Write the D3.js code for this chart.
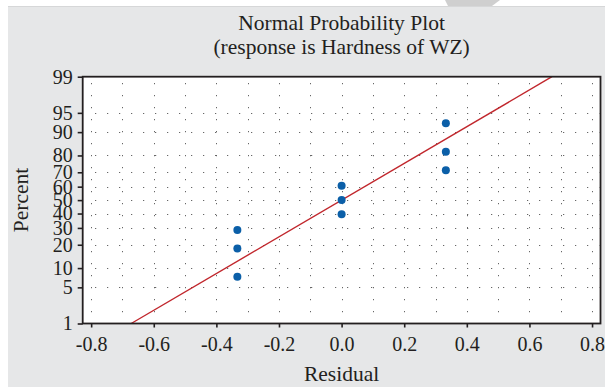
<!DOCTYPE html>
<html>
<head>
<meta charset="utf-8">
<script src="https://cdn.jsdelivr.net/npm/d3@7"></script>
<style>
  body { margin: 0; background: #fff; }
  svg { display: block; font-family: "Liberation Serif", "DejaVu Serif", serif; }
</style>
</head>
<body>
<svg id="chart"></svg>
<script>
let w = 605;
let h = 387;

// residuals and normal-score percents of the 9 observations
const residual = [-0.333, -0.333, -0.333, 0, 0, 0, 0.333, 0.333, 0.333];
const percent = [7.4, 18.1, 28.7, 39.4, 50, 60.6, 71.3, 81.9, 92.6];
// fitted line end points
const fitResidual = [-0.672, 0.672];
const fitPercent = [1, 99];

const yTicks = [1, 5, 10, 20, 30, 40, 50, 60, 70, 80, 90, 95, 99];
const yGrid = [5, 10, 20, 30, 40, 50, 60, 70, 80, 90, 95];
const xTicks = [-0.8, -0.6, -0.4, -0.2, 0.0, 0.2, 0.4, 0.6, 0.8];
const xGrid = [-0.8, -0.7, -0.6, -0.5, -0.4, -0.3, -0.2, -0.1, 0, 0.1, 0.2, 0.3, 0.4, 0.5, 0.6, 0.7, 0.8];

// inverse normal cdf (Acklam)
function probit(p) {
  const a = [-39.69683028665376, 220.9460984245205, -275.9285104469687, 138.3577518672690, -30.66479806614716, 2.506628277459239];
  const b = [-54.47609879822406, 161.5858368580409, -155.6989798598866, 66.80131188771972, -13.28068155288572];
  const c = [-0.007784894002430293, -0.3223964580411365, -2.400758277161838, -2.549732539343734, 4.374664141464968, 2.938163982698783];
  const d = [0.007784695709041462, 0.3224671290700398, 2.445134137142996, 3.754408661907416];
  const pl = 0.02425;
  let q, r;
  if (p < pl) {
    q = Math.sqrt(-2 * Math.log(p));
    return (((((c[0]*q+c[1])*q+c[2])*q+c[3])*q+c[4])*q+c[5]) / ((((d[0]*q+d[1])*q+d[2])*q+d[3])*q+1);
  } else if (p <= 1 - pl) {
    q = p - 0.5; r = q * q;
    return (((((a[0]*r+a[1])*r+a[2])*r+a[3])*r+a[4])*r+a[5])*q / (((((b[0]*r+b[1])*r+b[2])*r+b[3])*r+b[4])*r+1);
  }
  q = Math.sqrt(-2 * Math.log(1 - p));
  return -(((((c[0]*q+c[1])*q+c[2])*q+c[3])*q+c[4])*q+c[5]) / ((((d[0]*q+d[1])*q+d[2])*q+d[3])*q+1);
}

let svg = d3.select("#chart").attr("width", w).attr("height", h);

// page background
svg.append("rect").attr("x", 8).attr("y", 6.5).attr("width", w - 8).attr("height", h - 6.5)
  .attr("fill", "#e6e7e8");
svg.append("line").attr("x1", 8).attr("x2", w).attr("y1", 6.5).attr("y2", 6.5)
  .attr("stroke", "#d6d7d8").attr("stroke-width", 1);
svg.append("polygon").attr("points", "445,0 500,0 492,6 448,6").attr("fill", "#cfcfcf");

const pLeft = 82.7, pRight = 600.5, pTop = 76.7, pBottom = 323.5;

let xScale = d3.scaleLinear().domain([-0.827, 0.827]).range([pLeft, pRight]);
let zScale = d3.scaleLinear().domain([probit(0.01), probit(0.99)]).range([pBottom, pTop]);
const yScale = (p) => zScale(probit(p / 100));

// plot area
svg.append("rect").attr("x", pLeft).attr("y", pTop).attr("width", pRight - pLeft).attr("height", pBottom - pTop)
  .attr("fill", "#fff");

// dotted grid
let grid = svg.append("g").attr("stroke", "#444").attr("stroke-width", 1).attr("stroke-dasharray", "1,11");
grid.selectAll("line.v").data(xGrid).enter().append("line")
  .attr("x1", d => Math.round(xScale(d)) + 0.5).attr("x2", d => Math.round(xScale(d)) + 0.5)
  .attr("y1", pTop + 6.5).attr("y2", pBottom - 1);
grid.selectAll("line.h").data(yGrid).enter().append("line")
  .attr("y1", d => Math.round(yScale(d)) + 0.5).attr("y2", d => Math.round(yScale(d)) + 0.5)
  .attr("x1", pLeft + 12.5).attr("x2", pRight - 1);

// fitted line
svg.append("line")
  .attr("x1", xScale(fitResidual[0])).attr("y1", yScale(fitPercent[0]))
  .attr("x2", xScale(fitResidual[1])).attr("y2", yScale(fitPercent[1]))
  .attr("stroke", "#c1272d").attr("stroke-width", 1.4);

// points
svg.append("g").selectAll("circle").data(residual).enter().append("circle")
  .attr("cx", d => xScale(d))
  .attr("cy", (d, i) => yScale(percent[i]))
  .attr("r", 4)
  .attr("fill", "#0b5fa8");

// frame
svg.append("rect").attr("x", pLeft).attr("y", pTop).attr("width", pRight - pLeft).attr("height", pBottom - pTop)
  .attr("fill", "none").attr("stroke", "#231f20").attr("stroke-width", 1.8);

// axes
let yAxis = d3.axisLeft(d3.scaleLinear().domain(zScale.domain()).range(zScale.range()))
  .tickValues(yTicks.map(p => probit(p / 100)))
  .tickFormat((d, i) => yTicks[i])
  .tickSize(5).tickPadding(5);
let yAxisGroup = svg.append("g").attr("transform", `translate(${pLeft},0)`).call(yAxis);

let xAxis = d3.axisBottom(xScale).tickValues(xTicks).tickFormat(d => d.toFixed(1))
  .tickSize(4).tickPadding(9);
let xAxisGroup = svg.append("g").attr("transform", `translate(0,${pBottom})`).call(xAxis);

[yAxisGroup, xAxisGroup].forEach(g => {
  g.select(".domain").remove();
  g.selectAll(".tick line").attr("stroke", "#231f20").attr("stroke-width", 1.6);
  g.selectAll(".tick text").attr("fill", "#231f20").attr("font-size", "20px")
    .attr("font-family", "Liberation Serif, serif");
});

// titles
svg.append("text").attr("x", (pLeft + pRight) / 2).attr("y", 30).attr("text-anchor", "middle")
  .attr("font-size", "21.5px").attr("fill", "#231f20").text("Normal Probability Plot");
svg.append("text").attr("x", (pLeft + pRight) / 2).attr("y", 54).attr("text-anchor", "middle")
  .attr("font-size", "21.5px").attr("fill", "#231f20").text("(response is Hardness of WZ)");

svg.append("text").attr("x", (pLeft + pRight) / 2).attr("y", 381).attr("text-anchor", "middle")
  .attr("font-size", "21.5px").attr("fill", "#231f20").text("Residual");
svg.append("text").attr("transform", `translate(28,200) rotate(-90)`).attr("text-anchor", "middle")
  .attr("font-size", "21.5px").attr("fill", "#231f20").text("Percent");
</script>
</body>
</html>
